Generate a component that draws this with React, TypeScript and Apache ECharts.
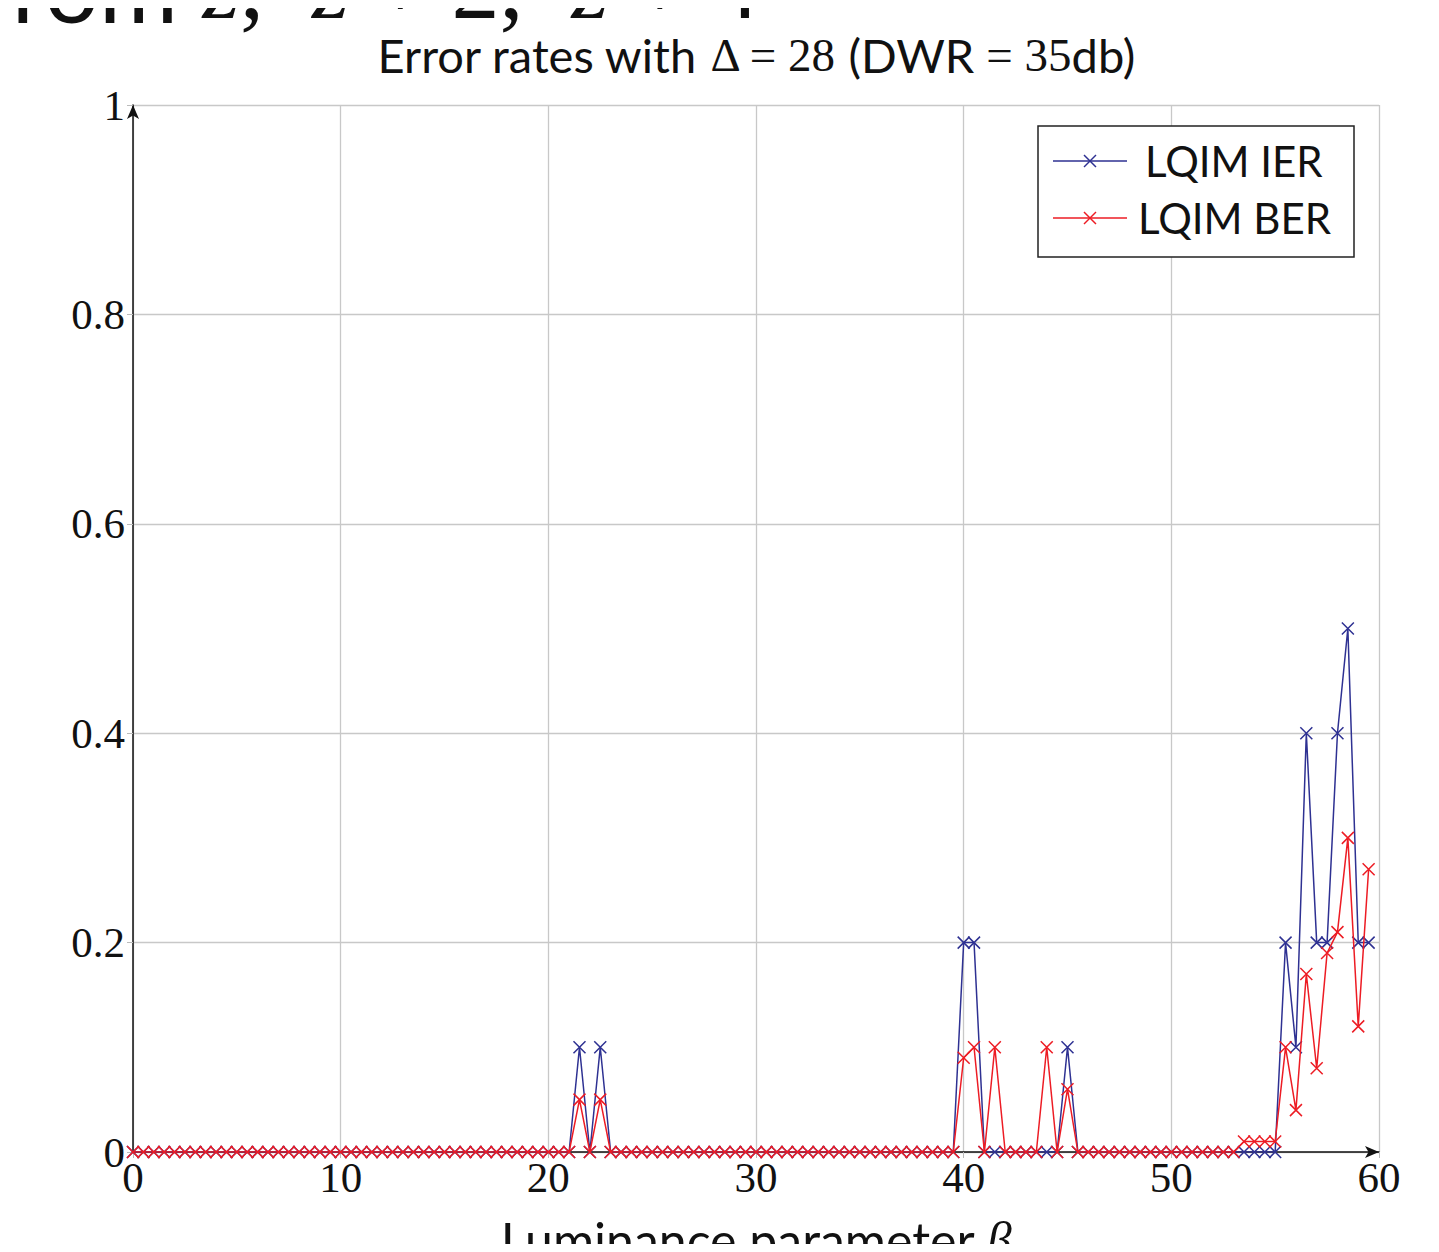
import React, { useEffect, useRef } from "react";
import * as echarts from "echarts";

const xValues = [
  0, 0.5, 1, 1.5, 2, 2.5, 3, 3.5, 4, 4.5, 5, 5.5, 6, 6.5, 7, 7.5, 8, 8.5, 9, 9.5,
  10, 10.5, 11, 11.5, 12, 12.5, 13, 13.5, 14, 14.5, 15, 15.5, 16, 16.5, 17, 17.5, 18, 18.5, 19, 19.5,
  20, 20.5, 21, 21.5, 22, 22.5, 23, 23.5, 24, 24.5, 25, 25.5, 26, 26.5, 27, 27.5, 28, 28.5, 29, 29.5,
  30, 30.5, 31, 31.5, 32, 32.5, 33, 33.5, 34, 34.5, 35, 35.5, 36, 36.5, 37, 37.5, 38, 38.5, 39, 39.5,
  40, 40.5, 41, 41.5, 42, 42.5, 43, 43.5, 44, 44.5, 45, 45.5, 46, 46.5, 47, 47.5, 48, 48.5, 49, 49.5,
  50, 50.5, 51, 51.5, 52, 52.5, 53, 53.5, 54, 54.5, 55, 55.5, 56, 56.5, 57, 57.5, 58, 58.5, 59, 59.5,
];

const ierValues = [
  0, 0, 0, 0, 0, 0, 0, 0, 0, 0, 0, 0, 0, 0, 0, 0, 0, 0, 0, 0,
  0, 0, 0, 0, 0, 0, 0, 0, 0, 0, 0, 0, 0, 0, 0, 0, 0, 0, 0, 0,
  0, 0, 0, 0.1, 0, 0.1, 0, 0, 0, 0, 0, 0, 0, 0, 0, 0, 0, 0, 0, 0,
  0, 0, 0, 0, 0, 0, 0, 0, 0, 0, 0, 0, 0, 0, 0, 0, 0, 0, 0, 0,
  0.2, 0.2, 0, 0, 0, 0, 0, 0, 0, 0, 0.1, 0, 0, 0, 0, 0, 0, 0, 0, 0,
  0, 0, 0, 0, 0, 0, 0, 0, 0, 0, 0, 0.2, 0.1, 0.4, 0.2, 0.2, 0.4, 0.5, 0.2, 0.2,
];

const berValues = [
  0, 0, 0, 0, 0, 0, 0, 0, 0, 0, 0, 0, 0, 0, 0, 0, 0, 0, 0, 0,
  0, 0, 0, 0, 0, 0, 0, 0, 0, 0, 0, 0, 0, 0, 0, 0, 0, 0, 0, 0,
  0, 0, 0, 0.05, 0, 0.05, 0, 0, 0, 0, 0, 0, 0, 0, 0, 0, 0, 0, 0, 0,
  0, 0, 0, 0, 0, 0, 0, 0, 0, 0, 0, 0, 0, 0, 0, 0, 0, 0, 0, 0,
  0.09, 0.1, 0, 0.1, 0, 0, 0, 0, 0.1, 0, 0.06, 0, 0, 0, 0, 0, 0, 0, 0, 0,
  0, 0, 0, 0, 0, 0, 0, 0.01, 0.01, 0.01, 0.01, 0.1, 0.04, 0.17, 0.08, 0.19, 0.21, 0.3, 0.12, 0.27,
];

const seriesNames = ["LQIM IER", "LQIM BER"];
const seriesColors = ["#2e3192", "#ed1c24"];

const SANS = "Lato";
const SERIF = "Liberation Serif";
const CROSS = "path://M0,0L10,10M10,0L0,10";

export default function App() {
  const ref = useRef<HTMLDivElement>(null);
  useEffect(() => {
    if (!ref.current) return;
    const chart = echarts.init(ref.current, null, { renderer: "svg" });
    const mk = (vals: number[]) => xValues.map((x, i) => [x, vals[i]]);
    const legendItems: any[] = [];
    const legendRows = [161, 218];
    const legendTextX = [1145, 1138];
    seriesNames.forEach((name, k) => {
      const y = legendRows[k];
      const c = seriesColors[k];
      legendItems.push(
        { type: "line", shape: { x1: 1053, y1: y, x2: 1127, y2: y }, style: { stroke: c, lineWidth: 1.5 }, z: 101 },
        { type: "line", shape: { x1: 1084, y1: y - 6, x2: 1096, y2: y + 6 }, style: { stroke: c, lineWidth: 1.5 }, z: 101 },
        { type: "line", shape: { x1: 1096, y1: y - 6, x2: 1084, y2: y + 6 }, style: { stroke: c, lineWidth: 1.5 }, z: 101 },
        {
          type: "text",
          x: legendTextX[k],
          y: y,
          style: { text: name, fontFamily: SANS, fontSize: 42, fill: "#111", verticalAlign: "middle", align: "left" },
          z: 101,
        }
      );
    });
    chart.setOption({
      animation: false,
      backgroundColor: "#ffffff",
      grid: { left: 133, right: 60, top: 105, bottom: 100, containLabel: false, outerBoundsMode: "none" },
      xAxis: {
        type: "value",
        min: 0,
        max: 60,
        interval: 10,
        name: "{a|Luminance parameter }{b|β}",
        nameLocation: "middle",
        nameGap: 63,
        nameTextStyle: {
          rich: {
            a: { fontFamily: SANS, fontSize: 50, color: "#111" },
            b: { fontFamily: SERIF, fontStyle: "italic", fontSize: 50, color: "#111" },
          },
        },
        axisLine: { show: true, onZero: false, symbol: ["none", "arrow"], symbolSize: [9, 14], lineStyle: { color: "#111", width: 1.5 } },
        axisTick: { show: true, length: 6, lineStyle: { color: "#bbb" } },
        axisLabel: { fontFamily: SERIF, fontSize: 43, color: "#111", margin: 4 },
        splitLine: { show: true, lineStyle: { color: "#c8c8c8", width: 1.3 } },
      },
      yAxis: {
        type: "value",
        min: 0,
        max: 1,
        interval: 0.2,
        axisLine: { show: true, onZero: false, symbol: ["none", "arrow"], symbolSize: [9, 14], lineStyle: { color: "#111", width: 1.5 } },
        axisTick: { show: true, length: 6, lineStyle: { color: "#bbb" } },
        axisLabel: { fontFamily: SERIF, fontSize: 43, color: "#111", margin: 8 },
        splitLine: { show: true, lineStyle: { color: "#c8c8c8", width: 1.3 } },
      },
      series: seriesNames.map((name, k) => ({
        name,
        type: "line",
        data: mk(k === 0 ? ierValues : berValues),
        symbol: CROSS,
        symbolSize: 12,
        showSymbol: true,
        lineStyle: { color: seriesColors[k], width: 1.5 },
        itemStyle: { color: seriesColors[k], borderColor: seriesColors[k], borderWidth: 1.5 },
        z: 3 + k,
      })),
      graphic: [
        {
          type: "text",
          x: -22,
          y: 33,
          style: {
            text: "{a|from }{b|z}{c|,  }{b|z}{c| + 2,  }{b|z}{c| + 4}",
            verticalAlign: "bottom",
            align: "left",
            rich: {
              a: { fontFamily: SANS, fontSize: 96, fill: "#111" },
              b: { fontFamily: SERIF, fontStyle: "italic", fontSize: 96, fill: "#111" },
              c: { fontFamily: SERIF, fontSize: 96, fill: "#111" },
            },
          },
        },
        {
          type: "text",
          x: 756,
          y: 55,
          style: {
            text: "{a|Error rates with }{b|Δ = 28}{a| (DWR }{b|= 35}{a|db)}",
            align: "center",
            verticalAlign: "middle",
            rich: {
              a: { fontFamily: SANS, fontSize: 47, fill: "#111" },
              b: { fontFamily: SERIF, fontSize: 47, fill: "#111" },
            },
          },
        },
        {
          type: "rect",
          shape: { x: 1038, y: 126, width: 316, height: 131 },
          style: { fill: "#fff", stroke: "#222", lineWidth: 1.5 },
          z: 100,
        },
        ...legendItems,
      ],
    });
    return () => chart.dispose();
  }, []);
  return <div ref={ref} style={{ width: 1439, height: 1252, margin: -8 }} />;
}
